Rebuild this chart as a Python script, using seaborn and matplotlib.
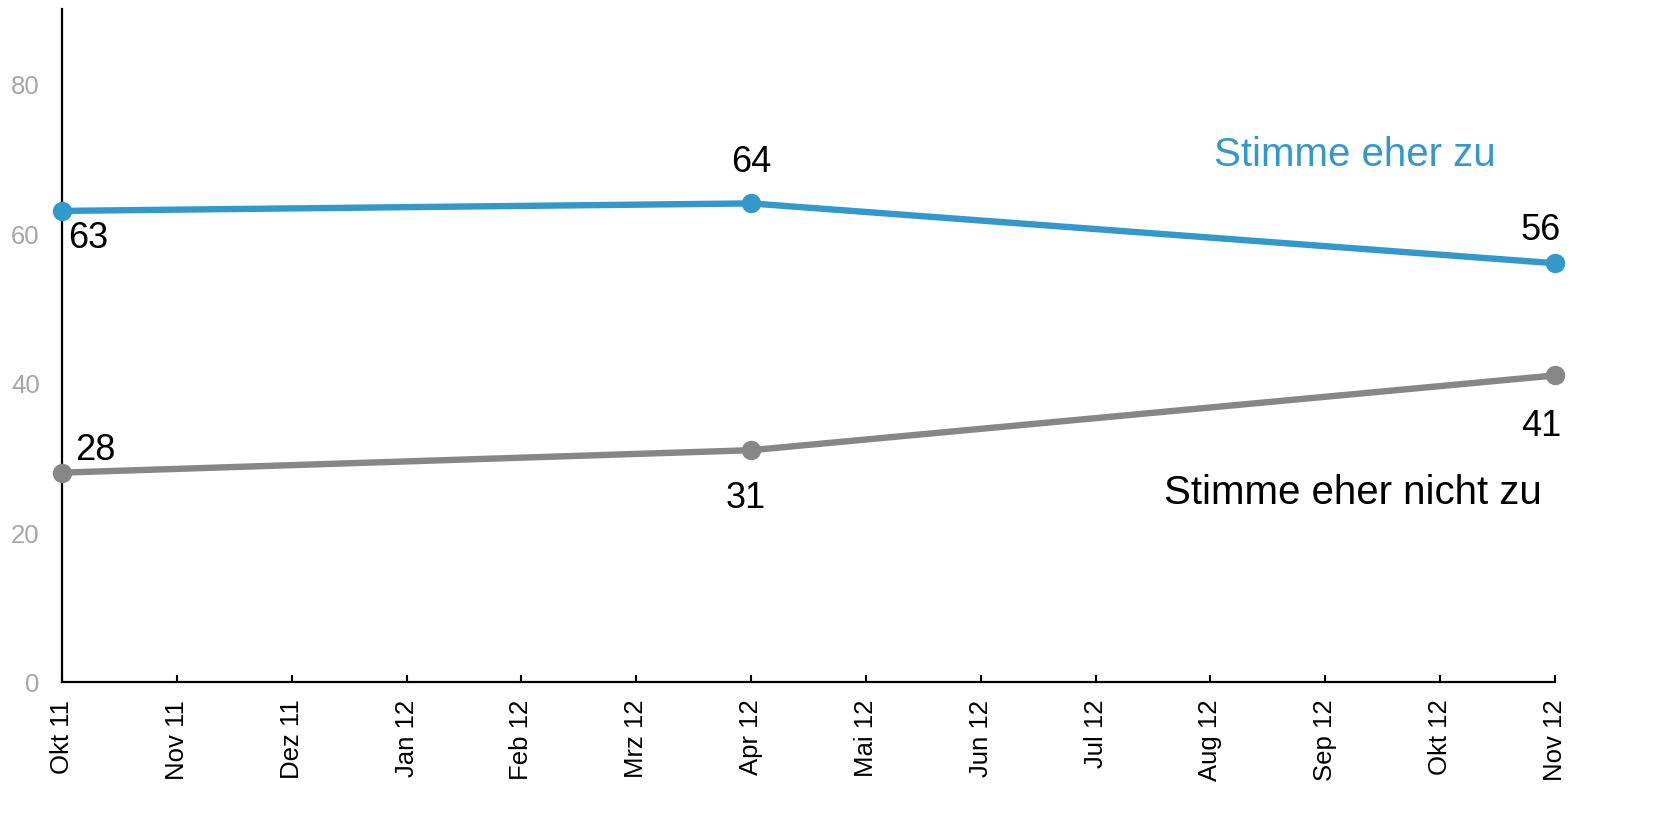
import numpy as np
import pandas as pd
import matplotlib
matplotlib.use('Agg')
import matplotlib.pyplot as plt
import seaborn as sns

# 数据
months = ['Okt 11', 'Nov 11', 'Dez 11', 'Jan 12', 'Feb 12', 'Mrz 12', 'Apr 12',
          'Mai 12', 'Jun 12', 'Jul 12', 'Aug 12', 'Sep 12', 'Okt 12', 'Nov 12']
survey_idx = [0, 6, 13]
zu = [63, 64, 56]
nicht_zu = [28, 31, 41]

blue = '#3399CC'
grey = '#878787'

sns.set_theme(style='white')
plt.rcParams['font.family'] = ['Liberation Sans', 'DejaVu Sans']

df = pd.DataFrame({
    'x': survey_idx * 2,
    'wert': zu + nicht_zu,
    'serie': ['Stimme eher zu'] * 3 + ['Stimme eher nicht zu'] * 3,
})

fig = plt.figure(figsize=(16.56, 8.2), dpi=100)
ax = fig.add_axes([62 / 1656, 1 - 683 / 820, (1555 - 62) / 1656, (683 - 10) / 820])

sns.lineplot(data=df, x='x', y='wert', hue='serie',
             palette={'Stimme eher zu': blue, 'Stimme eher nicht zu': grey},
             linewidth=4.6, marker='o', markersize=14, markeredgewidth=0,
             legend=False, ax=ax, clip_on=False, zorder=3)

ax.set_xlim(0, len(months) - 1)
ax.set_ylim(0, 90)
ax.set_xticks(range(len(months)))
ax.set_xticklabels(months, rotation=90, fontsize=18.5, color='black')
ax.set_yticks([0, 20, 40, 60, 80])
ax.set_yticklabels(['0', '20', '40', '60', '80'], fontsize=18.5, color='#A6A6A6')
ax.tick_params(axis='x', direction='in', length=5, width=1.5, color='black', pad=12, bottom=True)
ax.tick_params(axis='y', length=0, pad=16, left=False)
ax.set_xlabel('')
ax.set_ylabel('')
for s in ['top', 'right']:
    ax.spines[s].set_visible(False)
for s in ['left', 'bottom']:
    ax.spines[s].set_color('black')
    ax.spines[s].set_linewidth(1.6)

# 数值标签
offsets_zu = [(19, -19), (0, 30), (-10, 24)]
offsets_nicht = [(24, 17), (-4, -34), (-10, -36)]
for i, v, off in zip(survey_idx, zu, offsets_zu):
    ax.annotate(str(v), (i, v), xytext=off, textcoords='offset points',
                ha='center', va='center', fontsize=26, color='black')
for i, v, off in zip(survey_idx, nicht_zu, offsets_nicht):
    ax.annotate(str(v), (i, v), xytext=off, textcoords='offset points',
                ha='center', va='center', fontsize=26, color='black')

ax.text(11.26, 70.6, 'Stimme eher zu', ha='center', va='center', fontsize=29, color=blue)
ax.text(11.24, 25.4, 'Stimme eher nicht zu', ha='center', va='center', fontsize=29, color='black')

fig.savefig('out.png', dpi=100)
